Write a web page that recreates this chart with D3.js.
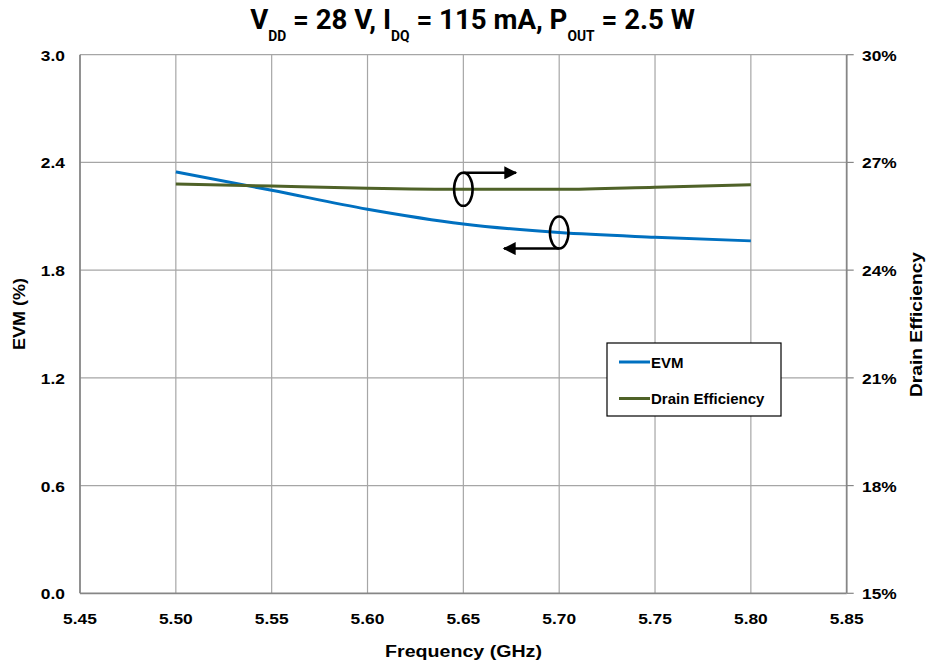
<!DOCTYPE html>
<html><head><meta charset="utf-8">
<script src="https://cdn.jsdelivr.net/npm/d3@7"></script>
<style>body{margin:0;background:#fff;}</style>
</head><body>
<svg id="c" width="927" height="664" font-family="Arial, 'Liberation Sans', sans-serif" font-weight="700"></svg>
<script>
const freqs = [5.50, 5.55, 5.60, 5.65, 5.70, 5.75, 5.80];
const evm = [2.347, 2.245, 2.139, 2.057, 2.009, 1.983, 1.963];
const drainEff = [26.40, 26.34, 26.28, 26.25, 26.25, 26.31, 26.38];
const xTicks = [5.45, 5.50, 5.55, 5.60, 5.65, 5.70, 5.75, 5.80, 5.85];
const yLeftTicks = [0.0, 0.6, 1.2, 1.8, 2.4, 3.0];
const yRightTicks = [15, 18, 21, 24, 27, 30];

const svg = d3.select("#c");
const L = 80, R = 846.7, T = 54.7, B = 593.3;
const x = d3.scaleLinear().domain([5.45, 5.85]).range([L, R]);
const yL = d3.scaleLinear().domain([0, 3]).range([B, T]);
const yR = d3.scaleLinear().domain([15, 30]).range([B, T]);
const HS = 1.12; // horizontal glyph stretch seen in the reference

function stretch(sel, sx, ax) {
  sel.attr("transform", `translate(${ax},0) scale(${sx},1) translate(${-ax},0)`);
}

// gridlines
svg.append("g").selectAll("line").data(xTicks.slice(1, -1)).join("line")
  .attr("x1", d => x(d)).attr("x2", d => x(d)).attr("y1", T).attr("y2", B)
  .attr("stroke", "#a6a6a6").attr("stroke-width", 1.2);
svg.append("g").selectAll("line").data(yLeftTicks.slice(1)).join("line")
  .attr("x1", L).attr("x2", R).attr("y1", d => yL(d)).attr("y2", d => yL(d))
  .attr("stroke", "#a6a6a6").attr("stroke-width", 1.2);

// axes lines
const ax = svg.append("g").attr("stroke", "#868686").attr("stroke-width", 1.8);
ax.append("line").attr("x1", L).attr("x2", L).attr("y1", T).attr("y2", B);
ax.append("line").attr("x1", R).attr("x2", R).attr("y1", T).attr("y2", B);
ax.append("line").attr("x1", L).attr("x2", R).attr("y1", B).attr("y2", B);
// right ticks
svg.append("g").selectAll("line").data(yRightTicks).join("line")
  .attr("x1", R).attr("x2", R + 7).attr("y1", d => yR(d)).attr("y2", d => yR(d))
  .attr("stroke", "#868686").attr("stroke-width", 1.2);

// tick labels
svg.append("g").selectAll("text").data(yLeftTicks).join("text")
  .attr("x", 65).attr("y", d => yL(d) + 6).attr("text-anchor", "end")
  .attr("font-size", 15.5).text(d => d.toFixed(1))
  .each(function () { stretch(d3.select(this), HS, 65); });
svg.append("g").selectAll("text").data(yRightTicks).join("text")
  .attr("x", 862).attr("y", d => yR(d) + 6).attr("text-anchor", "start")
  .attr("font-size", 15.5).text(d => d + "%")
  .each(function () { stretch(d3.select(this), HS, 862); });
svg.append("g").selectAll("text").data(xTicks).join("text")
  .attr("x", d => x(d)).attr("y", 624).attr("text-anchor", "middle")
  .attr("font-size", 15.5).text(d => d.toFixed(2))
  .each(function (d) { stretch(d3.select(this), HS, x(d)); });

// axis titles
const xt = svg.append("text").attr("x", 463.5).attr("y", 657).attr("text-anchor", "middle")
  .attr("font-size", 17).text("Frequency (GHz)");
stretch(xt, 157 / xt.node().getComputedTextLength(), 463.5);
svg.append("text").attr("transform", "translate(24.5,314) rotate(-90)").attr("text-anchor", "middle")
  .attr("font-size", 17).attr("textLength", 72).attr("lengthAdjust", "spacingAndGlyphs").text("EVM (%)");
svg.append("text").attr("transform", "translate(922,324.5) rotate(-90)").attr("text-anchor", "middle")
  .attr("font-size", 17).attr("textLength", 145).attr("lengthAdjust", "spacingAndGlyphs").text("Drain Efficiency");

// title
const title = svg.append("text").attr("x", 472.5).attr("y", 29.5).attr("text-anchor", "middle")
  .attr("font-size", 28).attr("font-family", "Roboto").attr("font-weight", 700);
const parts = [["V", 0], ["DD", 1], [" = 28 V, I", 0], ["DQ", 1], [" = 115 mA, P", 0], ["OUT", 1], [" = 2.5 W", 0]];
parts.forEach(([t, sub]) => {
  title.append("tspan").attr("font-size", sub ? 14 : 28).attr("dy", sub ? 12 : (t === "V" ? 0 : -12)).text(t);
});
stretch(title, 445 / title.node().getComputedTextLength(), 472.5);

// lines
const lineL = d3.line().x((d, i) => x(freqs[i])).y(d => yL(d)).curve(d3.curveMonotoneX);
const lineR = d3.line().x((d, i) => x(freqs[i])).y(d => yR(d)).curve(d3.curveMonotoneX);
svg.append("path").attr("d", lineL(evm)).attr("fill", "none").attr("stroke", "#0070c0").attr("stroke-width", 3);
svg.append("path").attr("d", lineR(drainEff)).attr("fill", "none").attr("stroke", "#4f6228").attr("stroke-width", 3);

// annotations
const defs = svg.append("defs");
defs.append("marker").attr("id", "ah").attr("viewBox", "0 0 10 10").attr("refX", 9).attr("refY", 5)
  .attr("markerWidth", 7).attr("markerHeight", 5.2).attr("markerUnits", "strokeWidth").attr("orient", "auto")
  .append("path").attr("d", "M0,0 L10,5 L0,10 z").attr("fill", "#000").attr("stroke", "none");
const an = svg.append("g").attr("stroke", "#000").attr("stroke-width", 2.5).attr("fill", "none");
an.append("ellipse").attr("cx", x(5.65)).attr("cy", yR(26.25)).attr("rx", 9.3).attr("ry", 16.5);
an.append("line").attr("x1", x(5.65)).attr("y1", yR(26.25) - 16.5).attr("x2", 516).attr("y2", yR(26.25) - 16.5).attr("marker-end", "url(#ah)");
an.append("ellipse").attr("cx", x(5.70)).attr("cy", yL(2.009)).attr("rx", 9.3).attr("ry", 16);
an.append("line").attr("x1", x(5.70)).attr("y1", yL(2.009) + 16).attr("x2", 504).attr("y2", yL(2.009) + 16).attr("marker-end", "url(#ah)");

// legend
const lg = svg.append("g");
lg.append("rect").attr("x", 607).attr("y", 343).attr("width", 174).attr("height", 73)
  .attr("fill", "#fff").attr("stroke", "#000").attr("stroke-width", 1.2);
const legItems = [["EVM", "#0070c0", 362], ["Drain Efficiency", "#4f6228", 398.5]];
legItems.forEach(([n, c, yy]) => {
  lg.append("line").attr("x1", 619).attr("x2", 650).attr("y1", yy).attr("y2", yy).attr("stroke", c).attr("stroke-width", 3);
  lg.append("text").attr("x", 651).attr("y", yy + 5.5).attr("font-size", 15).text(n);
});
</script>
</body></html>
